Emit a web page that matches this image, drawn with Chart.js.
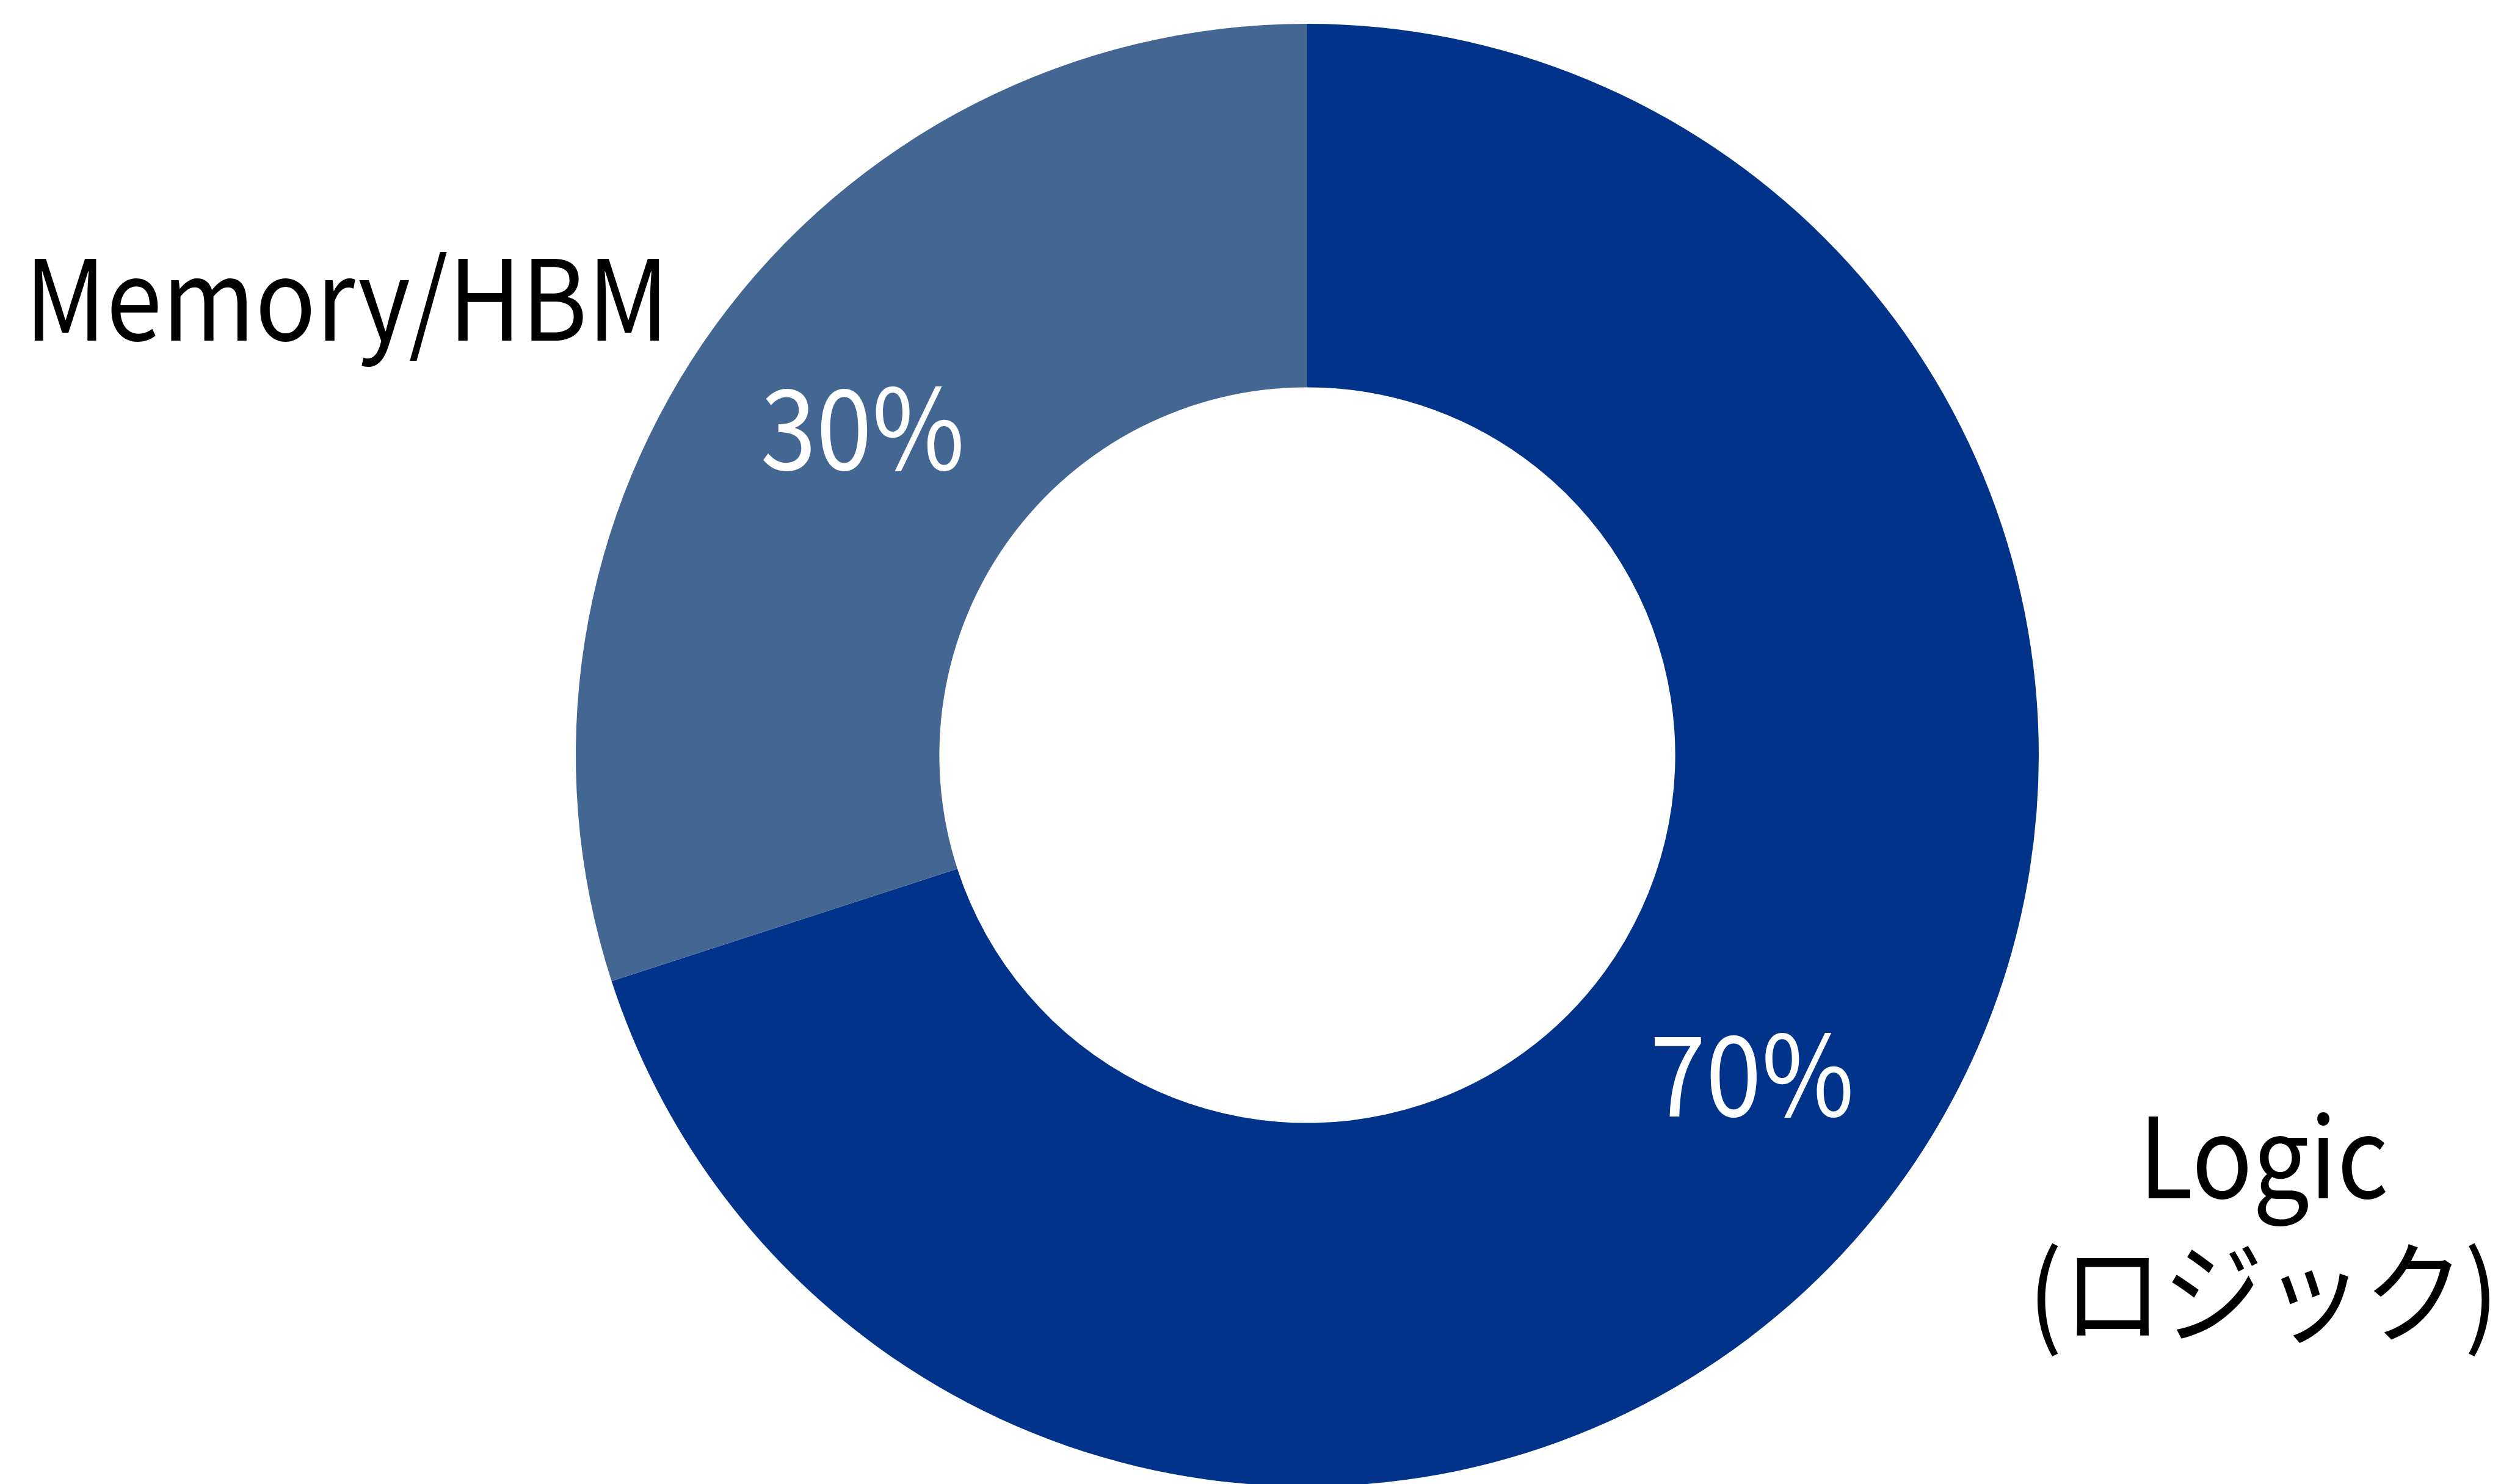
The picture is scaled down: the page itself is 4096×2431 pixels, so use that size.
<!DOCTYPE html>
<html>
<head>
<meta charset="utf-8">
<script src="https://cdn.jsdelivr.net/npm/chart.js@4/dist/chart.umd.min.js"></script>
<style>
  html, body { margin: 0; padding: 0; background: #ffffff; overflow: hidden; width: 4096px; height: 2431px; }
  canvas { display: block; }
</style>
</head>
<body>
<canvas id="c" width="4096" height="2460"></canvas>
<script>
// ---- data ----
const categories = ['Logic', 'Memory/HBM'];
const categoryLines = [['Logic', '(ロジック)'], ['Memory/HBM']];
const shares = [70, 30];
const sliceColors = ['#02338A', '#446692'];

const FONT = '"Noto Sans CJK JP", "Noto Sans", sans-serif';
const FS = 183;
const SQUEEZE = 0.9;

function drawText(ctx, txt, x, y, color) {
  ctx.save();
  ctx.translate(x, y);
  ctx.scale(SQUEEZE, 1);
  ctx.fillStyle = color;
  ctx.fillText(txt, 0, 0);
  ctx.restore();
}

const labelPlugin = {
  id: 'labels',
  afterDatasetsDraw(chart) {
    const ctx = chart.ctx;
    const meta = chart.getDatasetMeta(0);
    ctx.save();
    ctx.font = FS + 'px ' + FONT;
    ctx.textAlign = 'center';
    // percentage labels at the arc centroids
    ctx.textBaseline = 'middle';
    meta.data.forEach((arc, i) => {
      const p = arc.tooltipPosition();
      drawText(ctx, shares[i] + '%', p.x, p.y - 7, '#ffffff');
    });
    // category labels outside the ring
    ctx.textBaseline = 'alphabetic';
    const a0 = meta.data[0];
    const cx = a0.x, cy = a0.y, R = a0.outerRadius;
    const anchors = [
      { dx: 1.307, dy: 0.606, lh: 0.186 },   // Logic
      { dx: -1.313, dy: -0.567, lh: 0.186 }  // Memory/HBM
    ];
    categoryLines.forEach((lines, i) => {
      const a = anchors[i];
      lines.forEach((ln, k) => {
        drawText(ctx, ln, cx + a.dx * R, cy + (a.dy + k * a.lh) * R, '#000000');
      });
    });
    ctx.restore();
  }
};

new Chart(document.getElementById('c'), {
  type: 'doughnut',
  data: {
    labels: categories,
    datasets: [{
      data: shares,
      backgroundColor: sliceColors,
      borderWidth: 0,
      hoverOffset: 0,
      offset: 0
    }]
  },
  options: {
    responsive: false,
    animation: false,
    events: [],
    cutout: '50.3%',
    layout: { padding: { left: 943, right: 757, top: 39, bottom: 25 } },
    plugins: {
      legend: { display: false },
      tooltip: { enabled: false },
      title: { display: false }
    }
  },
  plugins: [labelPlugin]
});
</script>
</body>
</html>
